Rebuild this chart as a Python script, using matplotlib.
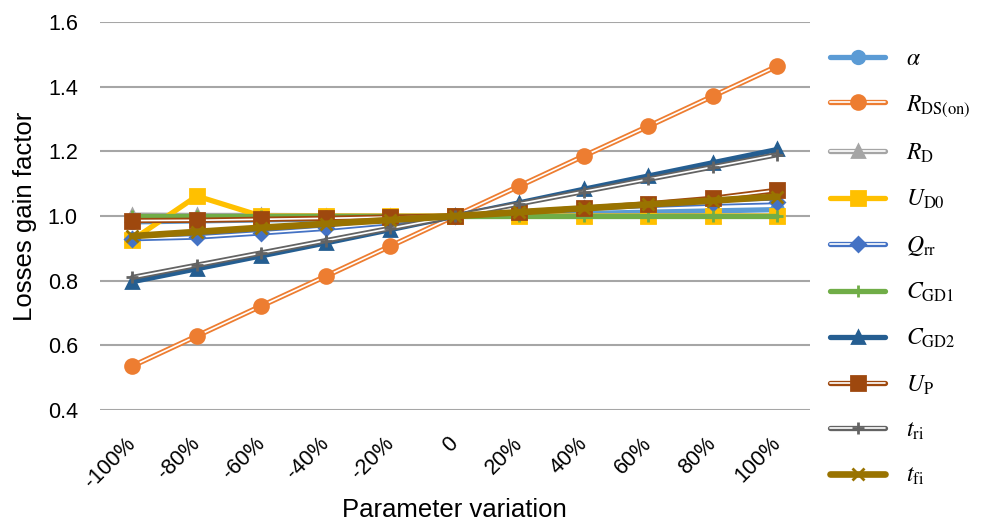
import matplotlib.pyplot as plt
from matplotlib.legend_handler import HandlerTuple

plt.rcParams['font.family'] = ['Liberation Sans', 'DejaVu Sans']
plt.rcParams['mathtext.fontset'] = 'stix'

# categories
variation = ['-100%', '-80%', '-60%', '-40%', '-20%', '0',
             '20%', '40%', '60%', '80%', '100%']

# series values
alpha = [0.982, 0.985, 0.988, 0.991, 0.995, 1.0, 1.004, 1.008, 1.012, 1.016, 1.020]
r_ds_on = [0.536, 0.629, 0.722, 0.814, 0.907, 1.0, 1.093, 1.186, 1.278, 1.371, 1.464]
r_d = [1.003, 1.002, 1.002, 1.001, 1.0, 1.0, 1.0, 1.0, 1.0, 1.0, 1.0]
u_d0 = [0.926, 1.062, 1.0, 1.0, 1.0, 1.0, 1.0, 1.0, 1.0, 1.0, 1.0]
q_rr = [0.930, 0.935, 0.948, 0.962, 0.980, 1.0, 1.012, 1.024, 1.033, 1.040, 1.045]
c_gd1 = [1.0, 1.0, 1.0, 1.0, 1.0, 1.0, 1.0, 1.0, 1.0, 1.0, 1.0]
c_gd2 = [0.797, 0.837, 0.877, 0.917, 0.958, 1.0, 1.041, 1.083, 1.124, 1.165, 1.206]
u_p = [0.986, 0.987, 0.990, 0.993, 0.997, 1.0, 1.012, 1.024, 1.038, 1.055, 1.080]
t_ri = [0.810, 0.848, 0.886, 0.924, 0.962, 1.0, 1.038, 1.076, 1.114, 1.152, 1.190]
t_fi = [0.938, 0.951, 0.964, 0.976, 0.988, 1.0, 1.012, 1.024, 1.036, 1.048, 1.060]

# label, values, colour, marker, marker size, double line?, line width
series = [
    (r'$\alpha$', alpha, '#5B9BD5', 'o', 9, False, 3.8),
    (r'$R_{\mathrm{DS(on)}}$', r_ds_on, '#ED7D31', 'o', 10, True, 3.8),
    (r'$R_{\mathrm{D}}$', r_d, '#A5A5A5', '^', 9, True, 3.8),
    (r'$U_{\mathrm{D0}}$', u_d0, '#FFC000', 's', 10, False, 3.8),
    (r'$Q_{\mathrm{rr}}$', q_rr, '#4472C4', 'D', 7, True, 3.8),
    (r'$C_{\mathrm{GD1}}$', c_gd1, '#70AD47', '+', 8, False, 3.8),
    (r'$C_{\mathrm{GD2}}$', c_gd2, '#255E91', '^', 9, False, 3.8),
    (r'$U_{\mathrm{P}}$', u_p, '#9E480E', 's', 10, True, 3.8),
    (r'$t_{\mathrm{ri}}$', t_ri, '#636363', '+', 9, True, 3.8),
    (r'$t_{\mathrm{fi}}$', t_fi, '#997300', 'x', 8, False, 4.8),
]

fig = plt.figure(figsize=(9.91, 5.27), dpi=100)
ax = fig.add_axes([0.101, 0.222, 0.716, 0.736])

x = list(range(len(variation)))
handles = []
labels = []
for name, vals, col, mk, ms, double, lw in series:
    if double:
        l1, = ax.plot(x, vals, color=col, lw=lw, solid_capstyle='round')
        l2, = ax.plot(x, vals, color='white', lw=lw * 0.32, solid_capstyle='round')
        m, = ax.plot(x, vals, ls='none', marker=mk, ms=ms, color=col, mew=2)
        handles.append((l1, l2, m))
    else:
        l, = ax.plot(x, vals, color=col, lw=lw, marker=mk, ms=ms, mew=2,
                     solid_capstyle='round')
        handles.append(l)
    labels.append(name)

ax.set_xlim(-0.5, 10.5)
ax.set_ylim(0.4, 1.6)
ax.set_yticks([0.4, 0.6, 0.8, 1.0, 1.2, 1.4, 1.6])
ax.set_yticklabels(['0.4', '0.6', '0.8', '1.0', '1.2', '1.4', '1.6'])
ax.set_xticks(x)
ax.set_xticklabels(variation, rotation=45, ha='right', va='center',
                   rotation_mode='anchor')
ax.tick_params(axis='both', length=0, labelsize=15.5)
ax.tick_params(axis='y', pad=16)
ax.tick_params(axis='x', pad=22)
ax.grid(axis='y', color='#a6a6a6', lw=1.5)
ax.set_axisbelow(True)
for s in ax.spines.values():
    s.set_visible(False)

ax.set_ylabel('Losses gain factor', fontsize=18.5, labelpad=8)
ax.set_xlabel('Parameter variation', fontsize=18.5, labelpad=4)

fig.legend(handles, labels, handler_map={tuple: HandlerTuple(ndivide=1, pad=0)},
           loc='center left', bbox_to_anchor=(0.8375, 0.4924), frameon=False,
           fontsize=17, handlelength=2.35, labelspacing=0.97, handletextpad=0.85,
           borderpad=0, borderaxespad=0)

fig.savefig('out.png', dpi=100)
